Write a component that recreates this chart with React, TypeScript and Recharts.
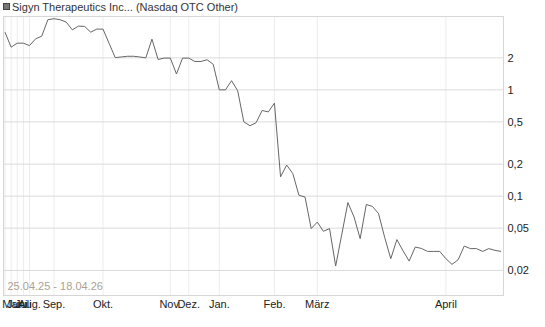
import React from "react";
import {
  LineChart,
  Line,
  XAxis,
  YAxis,
  CartesianGrid,
} from "recharts";

// closing prices, one point per trading record
const prices = [
  3.49, 2.52, 2.75, 2.75, 2.61, 3.02, 3.2, 4.57, 4.67, 4.57,
  4.34, 3.67, 3.98, 3.95, 3.49, 3.73, 3.73, 2.74, 2.01, 2.04,
  2.07, 2.07, 2.04, 2.0, 3.0, 1.93, 1.99, 1.99, 1.41, 1.99,
  1.99, 1.85, 1.85, 1.92, 1.74, 1.0, 1.0, 1.22, 0.98, 0.5,
  0.46, 0.49, 0.64, 0.62, 0.75, 0.152, 0.196, 0.163, 0.102, 0.098,
  0.0495, 0.057, 0.0467, 0.0495, 0.022, 0.0438, 0.087, 0.0637, 0.0398, 0.0834,
  0.08, 0.0686, 0.041, 0.0258, 0.039, 0.0306, 0.0245, 0.0332, 0.0322, 0.0302,
  0.0302, 0.0302, 0.0258, 0.0228, 0.0252, 0.0339, 0.0321, 0.0321, 0.0302, 0.0321,
  0.0309, 0.0302,
];

// first record of each month
const monthTicks = [0, 1, 2, 3, 4, 8, 16, 27, 30, 35, 44, 51, 72];
const monthLabels = ["", "Mai", "Juni", "Juli", "Aug.", "Sep.", "Okt.", "Nov.", "Dez.", "Jan.", "Feb.", "März", "April"];

const yTicks = [0.02, 0.05, 0.1, 0.2, 0.5, 1, 2];

const title = "Sigyn Therapeutics Inc... (Nasdaq OTC Other)";
const range = "25.04.25 - 18.04.26";

const data = prices.map((p, i) => ({ i, p }));

const font = "'Liberation Sans', Arial, sans-serif";

export default function App() {
  return (
    <div style={{ position: "absolute", left: 0, top: 0, width: 545, height: 327, fontFamily: font }}>
      {/* legend / title */}
      <div
        style={{
          position: "absolute",
          left: 3,
          top: 3,
          width: 7,
          height: 7,
          boxSizing: "border-box",
          background: "#777",
          border: "1px solid #444",
        }}
      />
      <div style={{ position: "absolute", left: 12, top: 0, fontSize: 11, lineHeight: "14px", color: "#333" }}>
        {title}
      </div>

      <LineChart
        width={545}
        height={327}
        data={data}
        margin={{ top: 16.5, right: 0, left: 3.5, bottom: 11.5 }}
        style={{ fontFamily: font }}
      >
        <CartesianGrid horizontal={false} stroke="#ececec" />
        <CartesianGrid vertical={false} stroke="#dadada" />
        <XAxis
          dataKey="i"
          type="number"
          domain={[0, prices.length - 1]}
          ticks={monthTicks}
          interval={0}
          tickFormatter={(v: number) => monthLabels[monthTicks.indexOf(v)] ?? ""}
          padding={{ left: 1.5, right: 2.5 }}
          height={20}
          tickLine={false}
          axisLine={false}
          tickSize={4}
          tickMargin={1}
          tick={{ fontSize: 11, fill: "#222" }}
        />
        <YAxis
          orientation="right"
          scale="log"
          domain={[0.01162, 4.9]}
          allowDataOverflow
          ticks={yTicks}
          interval={0}
          width={41.5}
          tickLine={false}
          axisLine={false}
          tickSize={2}
          tickMargin={2}
          tickFormatter={(v: number) => String(v).replace(".", ",")}
          tick={{ fontSize: 11, fill: "#222" }}
        />
        <Line
          type="linear"
          dataKey="p"
          stroke="#666"
          strokeWidth={1}
          dot={false}
          isAnimationActive={false}
        />
      </LineChart>

      {/* plot frame */}
      <div
        style={{
          position: "absolute",
          left: 3,
          top: 16,
          width: 501,
          height: 280,
          boxSizing: "border-box",
          border: "1px solid #d6d6d6",
          pointerEvents: "none",
        }}
      />
      <div
        style={{
          position: "absolute",
          left: 7.5,
          top: 280,
          fontSize: 11,
          lineHeight: "13px",
          color: "#ab9f94",
        }}
      >
        {range}
      </div>
    </div>
  );
}
